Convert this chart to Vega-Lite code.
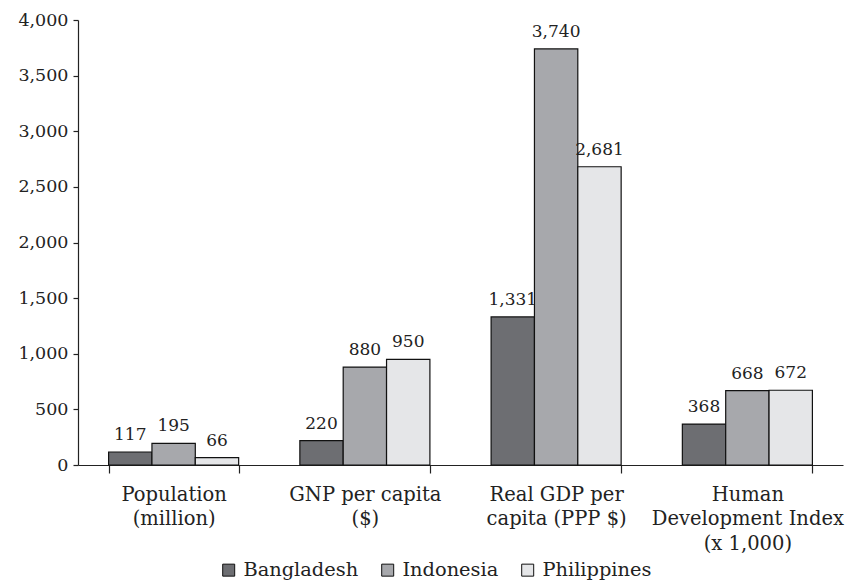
{
  "$schema": "https://vega.github.io/schema/vega-lite/v6.json",
  "width": 765,
  "height": 445,
  "autosize": {"type": "none"},
  "padding": {"left": 78, "top": 20, "right": 6, "bottom": 118},
  "background": "white",
  "config": {
    "font": "DejaVu Serif",
    "view": {"stroke": null},
    "axis": {"labelFont": "DejaVu Serif", "labelColor": "#222", "domainColor": "#222", "tickColor": "#222", "grid": false},
    "legend": {"labelFont": "DejaVu Serif"}
  },
  "data": {
    "values": [
      {"indicator": "Population|(million)", "country": "Bangladesh", "value": 117},
      {"indicator": "Population|(million)", "country": "Indonesia", "value": 195},
      {"indicator": "Population|(million)", "country": "Philippines", "value": 66},
      {"indicator": "GNP per capita|($)", "country": "Bangladesh", "value": 220},
      {"indicator": "GNP per capita|($)", "country": "Indonesia", "value": 880},
      {"indicator": "GNP per capita|($)", "country": "Philippines", "value": 950},
      {"indicator": "Real GDP per|capita (PPP $)", "country": "Bangladesh", "value": 1331},
      {"indicator": "Real GDP per|capita (PPP $)", "country": "Indonesia", "value": 3740},
      {"indicator": "Real GDP per|capita (PPP $)", "country": "Philippines", "value": 2681},
      {"indicator": "Human|Development Index|(x 1,000)", "country": "Bangladesh", "value": 368},
      {"indicator": "Human|Development Index|(x 1,000)", "country": "Indonesia", "value": 668},
      {"indicator": "Human|Development Index|(x 1,000)", "country": "Philippines", "value": 672}
    ]
  },
  "encoding": {
    "x": {
      "field": "indicator", "type": "nominal", "sort": null,
      "scale": {"paddingInner": 0.32, "paddingOuter": 0.16},
      "axis": {
        "title": null, "labelAngle": 0, "labelFontSize": 19.5, "labelPadding": 12, "labelLimit": 300,
        "labelExpr": "split(datum.label, '|')", "labelLineHeight": 24.5,
        "tickBand": "extent", "tickSize": 8, "domainWidth": 1.2, "tickWidth": 1.2
      }
    },
    "xOffset": {"field": "country", "type": "nominal", "sort": ["Bangladesh", "Indonesia", "Philippines"]},
    "y": {
      "field": "value", "type": "quantitative",
      "scale": {"domain": [0, 4000], "nice": false},
      "axis": {"title": null, "values": [0, 500, 1000, 1500, 2000, 2500, 3000, 3500, 4000], "format": ",d", "labelFontSize": 17.5, "tickSize": 5, "labelPadding": 5, "domainWidth": 1.2, "tickWidth": 1.2}
    }
  },
  "layer": [
    {
      "mark": {"type": "bar", "stroke": "#111", "strokeWidth": 1.2},
      "encoding": {
        "fill": {
          "field": "country", "type": "nominal",
          "scale": {"domain": ["Bangladesh", "Indonesia", "Philippines"], "range": ["#6d6e72", "#a7a8ac", "#e5e6e8"]},
          "legend": {
            "title": null, "orient": "none", "direction": "horizontal",
            "legendX": 141, "legendY": 540,
            "symbolType": "square", "symbolSize": 144, "symbolStrokeColor": "#111", "symbolStrokeWidth": 1,
            "labelFontSize": 19.4, "labelColor": "#222", "columnPadding": 19, "labelOffset": 5
          }
        }
      }
    },
    {
      "mark": {"type": "text", "baseline": "bottom", "dy": -8, "fontSize": 17, "color": "#222", "font": "DejaVu Serif"},
      "encoding": {"text": {"field": "value", "type": "quantitative", "format": ","}}
    }
  ]
}
